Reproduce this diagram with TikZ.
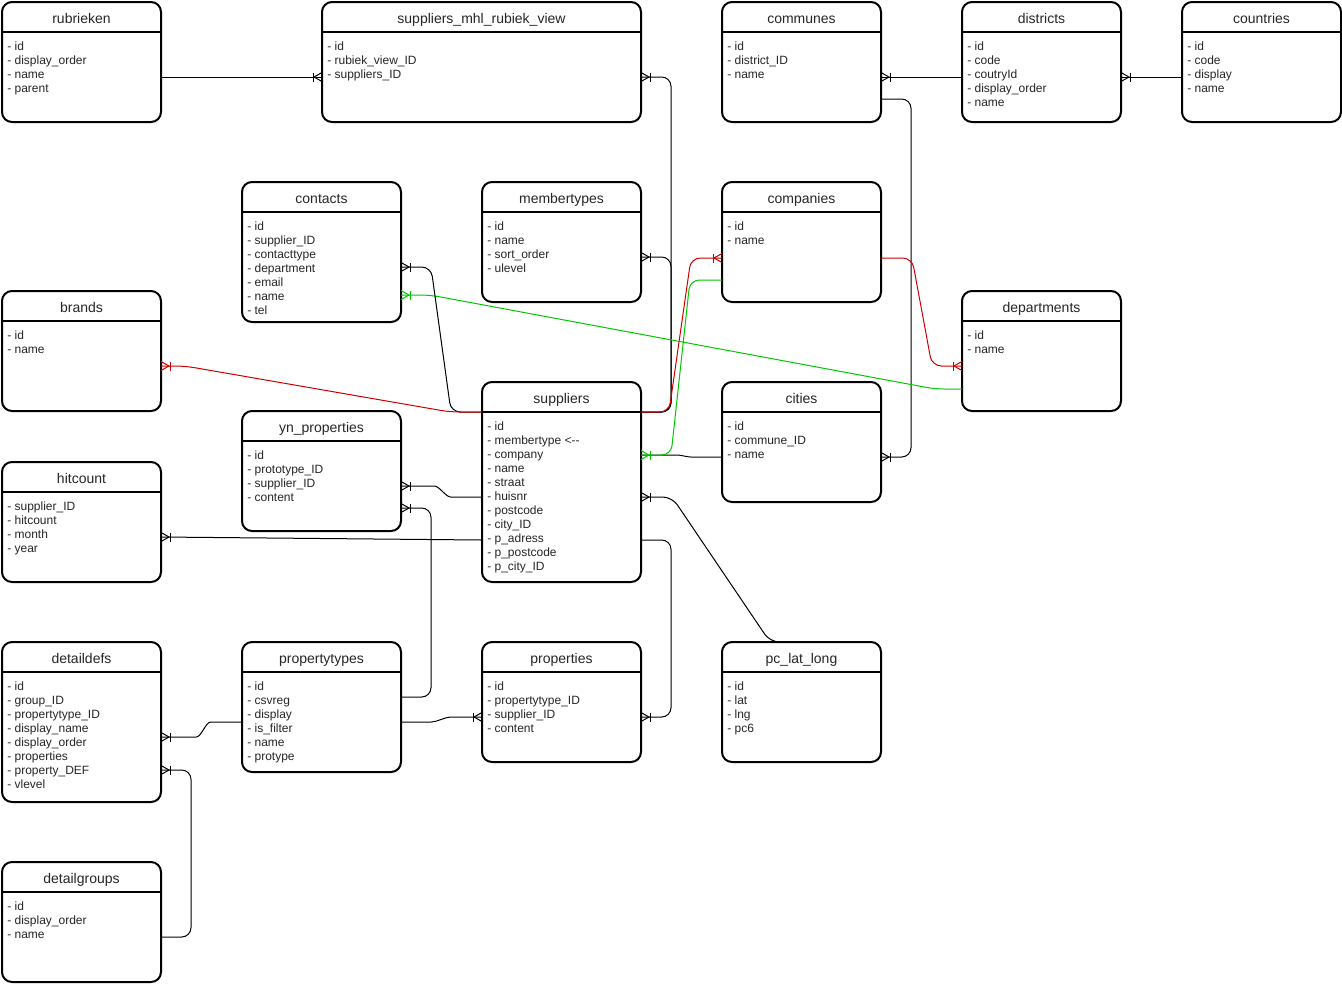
\documentclass[tikz,border=0pt]{standalone}
\usepackage{fontspec}
\setmainfont{Liberation Sans}
\usetikzlibrary{calc}
\definecolor{relred}{RGB}{204,0,0}
\definecolor{relgreen}{RGB}{0,200,0}
\tikzset{
 tbl/.style={draw=black, line width=1.5pt, rounded corners=7.5pt, fill=white, inner sep=0pt, outer sep=0pt},
 sepline/.style={draw=black, line width=1.5pt},
 ttl/.style={font=\fontsize{10.5}{12}\selectfont, anchor=base, inner sep=0pt, text=black!85},
 fld/.style={font=\fontsize{9}{10.5}\selectfont, anchor=base west, inner sep=0pt, text=black!85},
 rel/.style={draw=black, line width=0.75pt, rounded corners=7pt},
 crow/.pic={\draw[line width=0.75pt] (0,-4.5) -- (8,0) -- (0,4.5); \draw[line width=0.75pt] (9,-4.5) -- (9,4.5);}
}
\newcommand\ertable[7]{%
 \node[tbl, minimum width=#4*0.75pt, minimum height=#5*0.75pt, anchor=north west] (#1) at (#2,#3) {};
 \draw[sepline] ($(#1.north west)+(0,30)$) -- ($(#1.north east)+(0,30)$);
 \node[ttl] (#1-t) at ($(#1.north)+(0,21.5)$) {#6};
 \node[fld] (#1-f) at ($(#1.north west)+(5,48.5)$) {\begin{tabular}[t]{@{}l@{}}#7\end{tabular}};
}
\begin{document}
\begin{tikzpicture}[x=0.75pt,y=-0.75pt]
\useasboundingbox (0,0) rectangle (1342,983);
\fill[white] (0,0) rectangle (1342,983);

\ertable{rub}{2}{2}{159}{120}{rubrieken}{- id\\- display\_order\\- name\\- parent}
\ertable{smv}{322}{2}{319}{120}{suppliers\_mhl\_rubiek\_view}{- id\\- rubiek\_view\_ID\\- suppliers\_ID}
\ertable{com}{722}{2}{159}{120}{communes}{- id\\- district\_ID\\- name}
\ertable{dis}{962}{2}{159}{120}{districts}{- id\\- code\\- coutryId\\- display\_order\\- name}
\ertable{cou}{1182}{2}{159}{120}{countries}{- id\\- code\\- display\\- name}
\ertable{con}{242}{182}{159}{140}{contacts}{- id\\- supplier\_ID\\- contacttype\\- department\\- email\\- name\\- tel}
\ertable{mem}{482}{182}{159}{120}{membertypes}{- id\\- name\\- sort\_order\\- ulevel}
\ertable{cmp}{722}{182}{159}{120}{companies}{- id\\- name}
\ertable{bra}{2}{291}{159}{120}{brands}{- id\\- name}
\ertable{dep}{962}{291}{159}{120}{departments}{- id\\- name}
\ertable{sup}{482}{382}{159}{200}{suppliers}{- id\\- membertype <-{}-\\- company\\- name\\- straat\\- huisnr\\- postcode\\- city\_ID\\- p\_adress\\- p\_postcode\\- p\_city\_ID}
\ertable{cit}{722}{382}{159}{120}{cities}{- id\\- commune\_ID\\- name}
\ertable{yn}{242}{411}{159}{120}{yn\_properties}{- id\\- prototype\_ID\\- supplier\_ID\\- content}
\ertable{hit}{2}{462}{159}{120}{hitcount}{- supplier\_ID\\- hitcount\\- month\\- year}
\ertable{dd}{2}{642}{159}{160}{detaildefs}{- id\\- group\_ID\\- propertytype\_ID\\- display\_name\\- display\_order\\- properties\\- property\_DEF\\- vlevel}
\ertable{pt}{242}{642}{159}{130}{propertytypes}{- id\\- csvreg\\- display\\- is\_filter\\- name\\- protype}
\ertable{prp}{482}{642}{159}{120}{properties}{- id\\- propertytype\_ID\\- supplier\_ID\\- content}
\ertable{pc}{722}{642}{159}{120}{pc\_lat\_long}{- id\\- lat\\- lng\\- pc6}
\ertable{dg}{2}{862}{159}{120}{detailgroups}{- id\\- display\_order\\- name}

% rubrieken -> suppliers_mhl_rubiek_view
\draw[rel] ($(rub.north east)+(0,75)$) -- ($(smv.north west)+(0,75)$);
\path ($(smv.north west)+(0,75)$) pic[rotate=180]{crow};
% suppliers_mhl_rubiek_view -> suppliers
\draw[rel] ($(smv.north east)+(0,75)$) -- (671,77) -- (671,412) -- ($(sup.north east)+(0,30)$);
\path ($(smv.north east)+(0,75)$) pic{crow};
% membertypes -> suppliers
\draw[rel] ($(mem.north east)+(0,75)$) -- (671,257) -- (671,412) -- ($(sup.north east)+(0,30)$);
\path ($(mem.north east)+(0,75)$) pic{crow};
% suppliers -> cities (black)
\draw[rel] ($(sup.north east)+(0,73)$) -- (668,455) to[out=0,in=180] (700,457) -- ($(cit.north west)+(0,75)$);
% suppliers -> companies (red)
\draw[rel, draw=relred] ($(sup.north east)+(0,30)$) -- (669,412) -- (691,258) -- ($(cmp.north west)+(0,76)$);
\path ($(cmp.north west)+(0,76)$) pic[rotate=180, relred]{crow};
% suppliers -> companies (green)
\draw[rel, draw=relgreen] ($(sup.north east)+(0,73)$) -- (671,455) -- (690,280) -- ($(cmp.north west)+(0,98)$);
\path ($(sup.north east)+(0,73)$) pic[relgreen]{crow};
% communes -> cities
\draw[rel] ($(com.north east)+(0,97)$) -- (911,99) -- (911,457) -- ($(cit.north east)+(0,75)$);
\path ($(cit.north east)+(0,75)$) pic{crow};
% districts -> communes
\draw[rel] ($(dis.north west)+(0,75)$) -- ($(com.north east)+(0,75)$);
\path ($(com.north east)+(0,75)$) pic{crow};
% countries -> districts
\draw[rel] ($(cou.north west)+(0,75)$) -- ($(dis.north east)+(0,75)$);
\path ($(dis.north east)+(0,75)$) pic{crow};
% companies -> departments (red)
\draw[rel, draw=relred] ($(cmp.north east)+(0,76)$) -- (912,258) -- (932,366) -- ($(dep.north west)+(0,75)$);
\path ($(dep.north west)+(0,75)$) pic[rotate=180, relred]{crow};
% departments -> contacts (green)
\draw[rel, draw=relgreen] ($(dep.north west)+(0,98)$) -- (935,389) -- (430,295) -- ($(con.north east)+(0,113)$);
\path ($(con.north east)+(0,113)$) pic[relgreen]{crow};
% suppliers -> contacts
\draw[rel] ($(con.north east)+(0,85)$) -- (431,267) -- (451,412) -- ($(sup.north west)+(0,30)$);
\path ($(con.north east)+(0,85)$) pic{crow};
% suppliers -> brands (red)
\draw[rel, draw=relred] ($(bra.north east)+(0,75)$) -- (185,366) -- (450,412) -- ($(sup.north west)+(0,30)$);
\path ($(bra.north east)+(0,75)$) pic[relred]{crow};
% suppliers -> yn_properties
\draw[rel] ($(yn.north east)+(0,75)$) -- (425,486) to[out=0,in=180] (460,497) -- ($(sup.north west)+(0,115)$);
\path ($(yn.north east)+(0,75)$) pic{crow};
% propertytypes -> yn_properties
\draw[rel] ($(yn.north east)+(0,97)$) -- (431,508) -- (431,697) -- ($(pt.north east)+(0,55)$);
\path ($(yn.north east)+(0,97)$) pic{crow};
% suppliers -> hitcount
\draw[rel] ($(hit.north east)+(0,75)$) -- ($(sup.north west)+(0,158)$);
\path ($(hit.north east)+(0,75)$) pic{crow};
% suppliers -> properties
\draw[rel] ($(sup.north east)+(0,158)$) -- (671,540) -- (671,717) -- ($(prp.north east)+(0,75)$);
\path ($(prp.north east)+(0,75)$) pic{crow};
% pc_lat_long -> suppliers
\draw[rel] ($(sup.north east)+(0,115)$) -- (672,497) -- (770,642) -- ($(pc.north west)+(63,0)$);
\path ($(sup.north east)+(0,115)$) pic{crow};
% propertytypes -> properties
\draw[rel] ($(pt.north east)+(0,80)$) -- (422,722) to[out=0,in=180] (460,717) -- ($(prp.north west)+(0,75)$);
\path ($(prp.north west)+(0,75)$) pic[rotate=180]{crow};
% propertytypes -> detaildefs
\draw[rel] ($(pt.north west)+(0,80)$) -- (220,722) to[out=180,in=0] (187,737) -- ($(dd.north east)+(0,95)$);
\path ($(dd.north east)+(0,95)$) pic{crow};
% detailgroups -> detaildefs
\draw[rel] ($(dg.north east)+(0,75)$) -- (191,937) -- (191,770) -- ($(dd.north east)+(0,128)$);
\path ($(dd.north east)+(0,128)$) pic{crow};
\end{tikzpicture}
\end{document}
